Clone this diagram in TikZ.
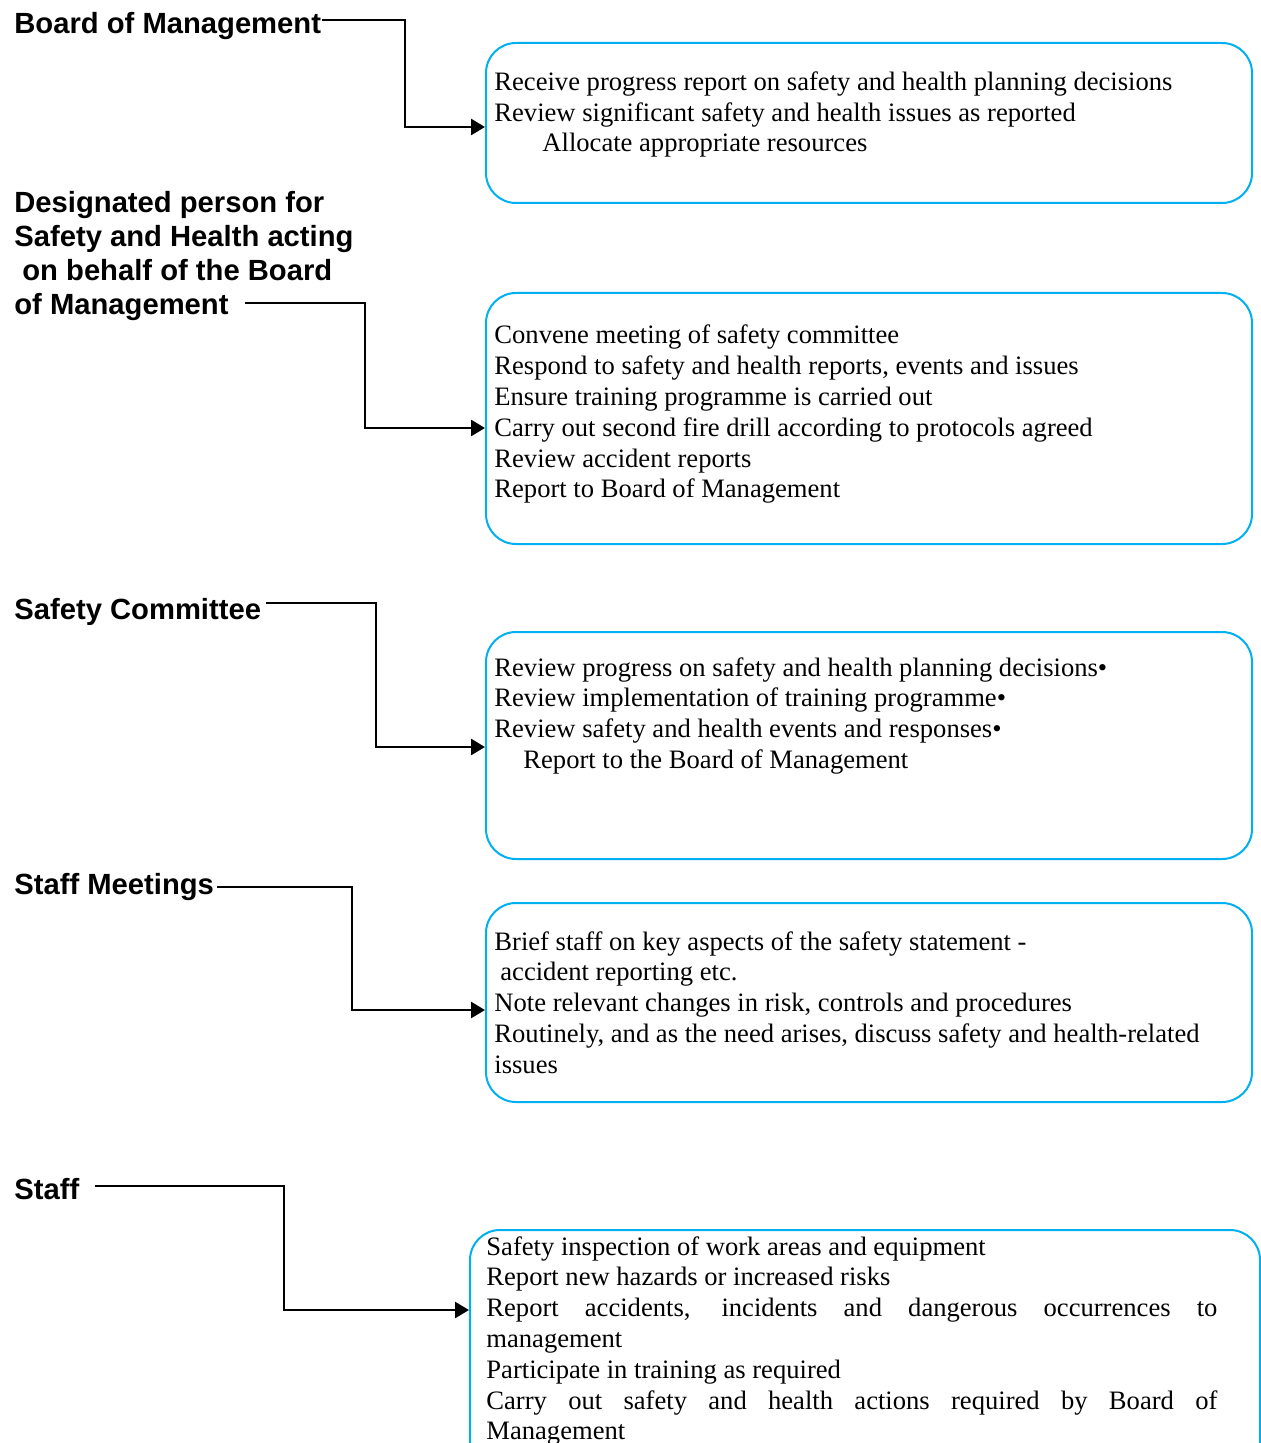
\documentclass[tikz,border=0pt]{standalone}
\usepackage{fontspec}
\setmainfont{Liberation Serif}
\newfontfamily\labfont{Liberation Sans}
\usetikzlibrary{arrows.meta}
\definecolor{boxblue}{RGB}{0,176,240}
\newcommand{\jline}[1]{\makebox[365.5pt][s]{#1}}
\begin{document}
\begin{tikzpicture}[x=0.5pt,y=-0.5pt,
  box/.style={draw=boxblue,line width=1pt,rounded corners=15pt,anchor=north west,inner sep=0pt},
  lbl/.style={anchor=base west,inner sep=0pt,font=\labfont\bfseries\fontsize{14.6}{17}\selectfont},
  txt/.style={anchor=base west,inner sep=0pt,font=\fontsize{13.3}{15.4}\selectfont},
  conn/.style={line width=1.3pt,-{Triangle[length=7pt,width=8pt]}}]
\useasboundingbox (0,0) rectangle (1261,1443);
\clip (0,0) rectangle (1261,1443);

% labels
\node[lbl] (l1) at (14,34) {Board of Management};
\node[lbl,align=left] (l2) at (14,213) {\parbox[t]{200pt}{\baselineskip=17pt Designated person for\\Safety and Health acting\\\hspace*{4pt}on behalf of the Board\\of Management}};
\node[lbl] (l3) at (14,619) {Safety Committee};
\node[lbl] (l4) at (14,894) {Staff Meetings};
\node[lbl] (l5) at (14,1199) {Staff};

% boxes
\node[box,minimum width=383pt,minimum height=80pt] (b1) at (485,42) {};
\node[box,minimum width=383pt,minimum height=125.5pt] (b2) at (485,292) {};
\node[box,minimum width=383pt,minimum height=113.5pt] (b3) at (485,631) {};
\node[box,minimum width=383pt,minimum height=99.5pt] (b4) at (485,902) {};
\node[box,minimum width=395pt,minimum height=125pt] (b5) at (469,1229) {};

% box texts
\node[txt] (t1) at (494,91) {\parbox[t]{380pt}{\baselineskip=15.25pt
Receive progress report on safety and health planning decisions\\
Review significant safety and health issues as reported\\
\hspace*{24pt}Allocate appropriate resources}};
\node[txt] (t2) at (494,344) {\parbox[t]{380pt}{\baselineskip=15.4pt
Convene meeting of safety committee\\
Respond to safety and health reports, events and issues\\
Ensure training programme is carried out\\
Carry out second fire drill according to protocols agreed\\
Review accident reports\\
Report to Board of Management}};
\node[txt] (t3) at (494,676) {\parbox[t]{380pt}{\baselineskip=15.4pt
Review progress on safety and health planning decisions\textbullet\\
Review implementation of training programme\textbullet\\
Review safety and health events and responses\textbullet\\
\hspace*{14.5pt}Report to the Board of Management}};
\node[txt] (t4) at (494,950) {\parbox[t]{380pt}{\baselineskip=15.4pt
Brief staff on key aspects of the safety statement -\\
\hspace*{3pt}accident reporting etc.\\
Note relevant changes in risk, controls and procedures\\
Routinely, and as the need arises, discuss safety and health-related\\
issues}};
\node[txt] (t5) at (486,1255) {\parbox[t]{380pt}{\baselineskip=15.4pt
Safety inspection of work areas and equipment\\
Report new hazards or increased risks\\
\jline{Report accidents, incidents and dangerous occurrences to}\\
management\\
Participate in training as required\\
\jline{Carry out safety and health actions required by Board of}\\
Management}};

% connectors
\coordinate (s1) at (322,20);  \coordinate (k1) at (405,127);
\coordinate (s2) at (245,303); \coordinate (k2) at (365,428);
\coordinate (s3) at (266,603); \coordinate (k3) at (376,747);
\coordinate (s4) at (217,887); \coordinate (k4) at (352,1010);
\coordinate (s5) at (95,1186); \coordinate (k5) at (284,1310);
\draw[conn] (s1) -| (k1) -- (k1 -| b1.west);
\draw[conn] (s2) -| (k2) -- (k2 -| b2.west);
\draw[conn] (s3) -| (k3) -- (k3 -| b3.west);
\draw[conn] (s4) -| (k4) -- (k4 -| b4.west);
\draw[conn] (s5) -| (k5) -- (k5 -| b5.west);
\end{tikzpicture}
\end{document}
